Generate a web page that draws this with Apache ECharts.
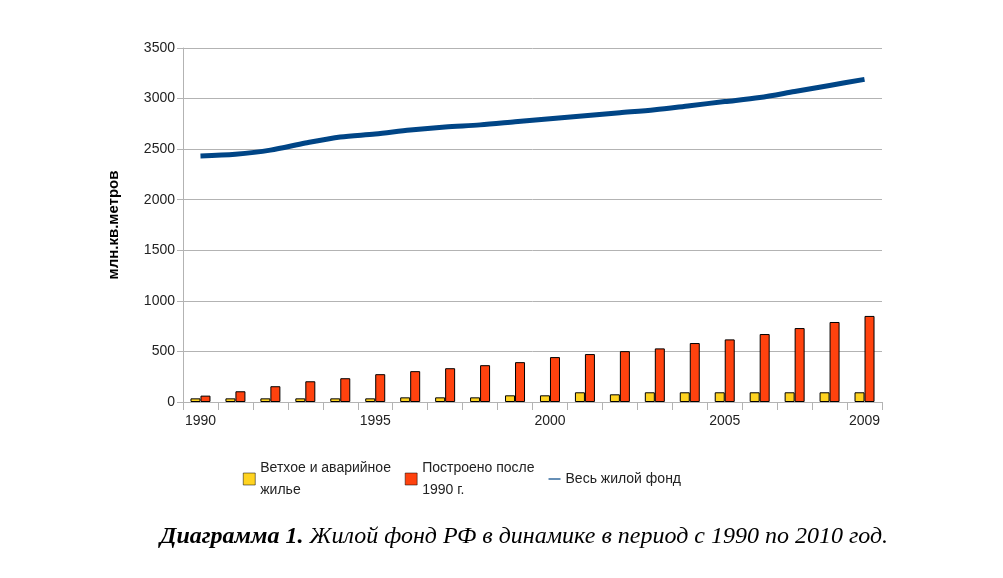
<!DOCTYPE html>
<html>
<head>
<meta charset="utf-8">
<script src="https://cdn.jsdelivr.net/npm/echarts@6/dist/echarts.min.js"></script>
<style>
html,body{margin:0;padding:0;background:#fff;}
#main{width:1003px;height:578px;}
</style>
</head>
<body>
<div id="main"></div>
<script>
var years = ['1990','1991','1992','1993','1994','1995','1996','1997','1998','1999','2000','2001','2002','2003','2004','2005','2006','2007','2008','2009'];
var shownYears = ['1990','1995','2000','2005','2009'];
var oldHousing = [36,36,36,36,36,36,46,46,46,66,66,96,76,96,96,96,96,96,96,96];
var builtAfter = [63,106,156,205,235,275,305,334,364,394,444,474,503,530,583,619,672,731,791,851];
var totalFund = [2433,2450,2490,2560,2620,2650,2690,2720,2740,2770,2800,2830,2860,2890,2930,2970,3010,3070,3130,3190];

var chart = echarts.init(document.getElementById('main'));
chart.setOption({
    animation: false,
    textStyle: {fontFamily: 'Liberation Sans'},
    grid: {left: 183, right: 121, top: 48, bottom: 176},
    title: {
        text: '{b|Диаграмма 1.} Жилой фонд РФ в динамике в период с 1990 по 2010 год.',
        left: 155, top: 520,
        textStyle: {
            fontFamily: 'Liberation Serif', fontStyle: 'italic', fontWeight: 'normal',
            fontSize: 24, color: '#000',
            rich: {b: {fontFamily: 'Liberation Serif', fontStyle: 'italic', fontWeight: 'bold', fontSize: 24, color: '#000'}}
        }
    },
    legend: {
        left: 238, top: 456, itemWidth: 12, itemHeight: 12, itemGap: 14,
        align: 'left',
        textStyle: {fontSize: 14, color: '#222', lineHeight: 22, verticalAlign: 'top', padding: [-8, 0, 0, 0]},
        data: [
            {name: 'Ветхое и аварийное\nжилье', icon: 'rect', itemStyle: {borderWidth: 0.5}},
            {name: 'Построено после\n1990 г.', icon: 'rect', itemStyle: {borderWidth: 0.5}},
            {name: 'Весь жилой фонд', icon: 'path://M0,5h30v3h-30z', itemWidth: 26}
        ]
    },
    xAxis: {
        type: 'category', data: years,
        axisLine: {lineStyle: {color: '#b3b3b3'}},
        axisTick: {show: true, interval: 0, length: 8, lineStyle: {color: '#b3b3b3'}},
        axisLabel: {
            color: '#222', fontSize: 14, margin: 12,
            interval: function (i, v) { return shownYears.indexOf(v) >= 0; }
        }
    },
    yAxis: {
        type: 'value', min: 0, max: 3500, interval: 500,
        name: 'млн.кв.метров', nameLocation: 'middle', nameGap: 62, nameRotate: 90,
        nameTextStyle: {fontSize: 15, fontWeight: 'bold', color: '#000'},
        axisLine: {show: true, lineStyle: {color: '#b3b3b3'}},
        axisTick: {show: true, length: 6, lineStyle: {color: '#b3b3b3'}},
        axisLabel: {color: '#222', fontSize: 14, formatter: function (v) { return String(v); }},
        splitLine: {lineStyle: {color: '#b3b3b3'}}
    },
    series: [
        {name: 'Ветхое и аварийное\nжилье', type: 'bar', data: oldHousing, barWidth: 10, barGap: '0%',
            itemStyle: {color: '#ffd320', borderColor: '#000', borderWidth: 1}},
        {name: 'Построено после\n1990 г.', type: 'bar', data: builtAfter, barWidth: 10,
            itemStyle: {color: '#ff420e', borderColor: '#000', borderWidth: 1}},
        {name: 'Весь жилой фонд', type: 'line', data: totalFund, smooth: 0.3, symbol: 'none',
            lineStyle: {color: '#004586', width: 5}, itemStyle: {color: '#004586'}}
    ]
});
</script>
</body>
</html>
